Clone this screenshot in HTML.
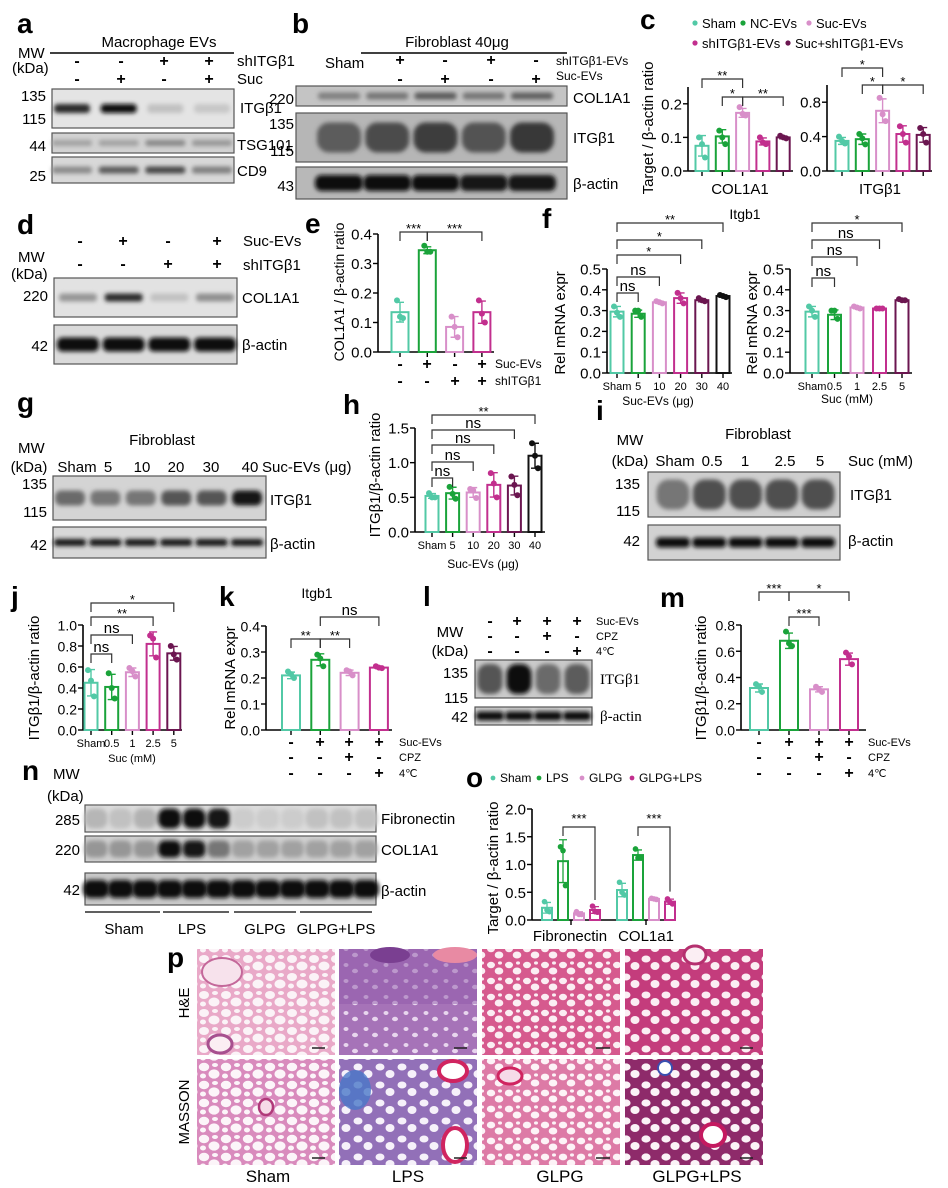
<!DOCTYPE html>
<html><head><meta charset="utf-8"><title>Figure</title>
<style>
html,body{margin:0;padding:0;background:#fff;}
svg{display:block;font-family:"Liberation Sans",Arial,sans-serif;}
.pl{font-weight:bold;font-size:28px;}
.t15{font-size:15px;}
.t14{font-size:14px;}
.t13{font-size:13px;}
.t12{font-size:12px;}
.t11{font-size:11px;}
.sg{font-size:16px;font-weight:bold;text-anchor:middle;}
.serif{font-family:"Liberation Serif",serif;}
</style></head>
<body>
<svg id="fig" width="948" height="1188" viewBox="0 0 948 1188" xmlns="http://www.w3.org/2000/svg">
<defs>
<filter id="blur" x="-30%" y="-80%" width="160%" height="260%"><feGaussianBlur stdDeviation="2.2"/></filter>
<pattern id="he-sham" width="22" height="18" patternUnits="userSpaceOnUse"><rect width="22" height="18" fill="#e9a9c8"/><ellipse cx="6" cy="5" rx="5" ry="4" fill="#fbf3f7"/><ellipse cx="16" cy="12" rx="5.5" ry="4.5" fill="#fbf3f7"/><ellipse cx="17" cy="3" rx="3" ry="2" fill="#fbf3f7"/><ellipse cx="5" cy="14" rx="3" ry="2.5" fill="#fbf3f7"/></pattern>
<pattern id="he-lps" width="20" height="16" patternUnits="userSpaceOnUse"><rect width="20" height="16" fill="#a673b8"/><ellipse cx="6" cy="5" rx="2.5" ry="2" fill="#e8d6ee"/><ellipse cx="15" cy="11" rx="3" ry="2.2" fill="#e8d6ee"/></pattern>
<pattern id="he-glpg" width="18" height="16" patternUnits="userSpaceOnUse"><rect width="18" height="16" fill="#d65a8e"/><ellipse cx="5" cy="5" rx="4" ry="3.2" fill="#fbeef3"/><ellipse cx="13" cy="11" rx="4.3" ry="3.5" fill="#fbeef3"/><ellipse cx="14" cy="3" rx="2" ry="1.6" fill="#fbeef3"/></pattern>
<pattern id="he-gl" width="20" height="18" patternUnits="userSpaceOnUse"><rect width="20" height="18" fill="#c43c7c"/><ellipse cx="6" cy="5" rx="4.5" ry="3.5" fill="#fbeef3"/><ellipse cx="15" cy="12" rx="4.5" ry="4" fill="#fbeef3"/></pattern>
<pattern id="ma-sham" width="22" height="18" patternUnits="userSpaceOnUse"><rect width="22" height="18" fill="#d98bbd"/><ellipse cx="6" cy="5" rx="5.2" ry="4.2" fill="#fcf5f9"/><ellipse cx="16" cy="12" rx="5.5" ry="4.6" fill="#fcf5f9"/><ellipse cx="17" cy="3" rx="3" ry="2" fill="#fcf5f9"/><ellipse cx="5" cy="14" rx="3" ry="2.5" fill="#fcf5f9"/></pattern>
<pattern id="ma-lps" width="22" height="18" patternUnits="userSpaceOnUse"><rect width="22" height="18" fill="#9270b8"/><ellipse cx="6" cy="5" rx="4.5" ry="3.5" fill="#f6f1fa"/><ellipse cx="16" cy="12" rx="4.5" ry="4" fill="#f6f1fa"/></pattern>
<pattern id="ma-glpg" width="18" height="16" patternUnits="userSpaceOnUse"><rect width="18" height="16" fill="#dd7aa6"/><ellipse cx="5" cy="5" rx="4.2" ry="3.4" fill="#fdf3f7"/><ellipse cx="13" cy="11" rx="4.3" ry="3.5" fill="#fdf3f7"/><ellipse cx="14" cy="3" rx="2" ry="1.6" fill="#fdf3f7"/></pattern>
<pattern id="ma-gl" width="20" height="18" patternUnits="userSpaceOnUse"><rect width="20" height="18" fill="#8e2a6a"/><ellipse cx="6" cy="5" rx="4.6" ry="3.6" fill="#fbf3f7"/><ellipse cx="15" cy="12" rx="4.6" ry="4" fill="#fbf3f7"/></pattern>
</defs>

<!-- Panel a -->
<g>
<text class="pl" x="17" y="33">a</text>
<text class="t15" x="159" y="47" text-anchor="middle">Macrophage EVs</text>
<line x1="50" y1="53" x2="234" y2="53" stroke="#000" stroke-width="1.5"/>
<text class="t15" x="18" y="58">MW</text>
<text class="t15" x="12" y="73">(kDa)</text>
<g class="sg"><text x="77" y="66">-</text><text x="121" y="66">-</text><text x="164" y="66">+</text><text x="209" y="66">+</text></g>
<g class="sg"><text x="77" y="84">-</text><text x="121" y="84">+</text><text x="164" y="84">-</text><text x="209" y="84">+</text></g>
<text class="t15" x="237" y="66">shITGβ1</text>
<text class="t15" x="237" y="84">Suc</text>
<text class="t15" x="46" y="101" text-anchor="end">135</text>
<text class="t15" x="46" y="124" text-anchor="end">115</text>
<text class="t15" x="46" y="151" text-anchor="end">44</text>
<text class="t15" x="46" y="181" text-anchor="end">25</text>
<text class="t15" x="240" y="113">ITGβ1</text>
<text class="t15" x="237" y="150">TSG101</text>
<text class="t15" x="237" y="176">CD9</text>
</g>

<!-- Panel b -->
<g>
<text class="pl" x="292" y="33">b</text>
<text class="t15" x="457" y="47" text-anchor="middle">Fibroblast  40μg</text>
<line x1="361" y1="53" x2="567" y2="53" stroke="#000" stroke-width="1.5"/>
<text class="t15" x="325" y="68">Sham</text>
<g class="sg"><text x="400" y="65">+</text><text x="445" y="65">-</text><text x="491" y="65">+</text><text x="536" y="65">-</text></g>
<g class="sg"><text x="400" y="84">-</text><text x="445" y="84">+</text><text x="491" y="84">-</text><text x="536" y="84">+</text></g>
<text class="t12" x="556" y="65">shITGβ1-EVs</text>
<text class="t12" x="556" y="80">Suc-EVs</text>
<text class="t15" x="294" y="104" text-anchor="end">220</text>
<text class="t15" x="294" y="129" text-anchor="end">135</text>
<text class="t15" x="294" y="156" text-anchor="end">115</text>
<text class="t15" x="294" y="191" text-anchor="end">43</text>
<text class="t15" x="573" y="103">COL1A1</text>
<text class="t15" x="573" y="143">ITGβ1</text>
<text class="t15" x="573" y="189">β-actin</text>
</g>

<!-- Panel c -->
<g>
<text class="pl" x="640" y="29">c</text>
<g class="t13">
<circle cx="695" cy="23" r="2.6" fill="#52c9a6"/><text x="702" y="28">Sham</text>
<circle cx="743" cy="23" r="2.6" fill="#1aa33a"/><text x="750" y="28">NC-EVs</text>
<circle cx="809" cy="23" r="2.6" fill="#d88fc9"/><text x="816" y="28">Suc-EVs</text>
<circle cx="695" cy="43" r="2.6" fill="#c22f8e"/><text x="702" y="48">shITGβ1-EVs</text>
<circle cx="788" cy="43" r="2.6" fill="#6b1650"/><text x="795" y="48">Suc+shITGβ1-EVs</text>
</g>
<text class="t15" transform="translate(653,128) rotate(-90)" text-anchor="middle">Target / β-actin ratio</text>
<text class="t15" x="740" y="194" text-anchor="middle">COL1A1</text>
<text class="t15" x="880" y="194" text-anchor="middle">ITGβ1</text>
</g>

<!-- Panel d -->
<g>
<text class="pl" x="17" y="234">d</text>
<g class="sg"><text x="80" y="246">-</text><text x="123" y="246">+</text><text x="168" y="246">-</text><text x="217" y="246">+</text></g>
<g class="sg"><text x="80" y="269">-</text><text x="123" y="269">-</text><text x="168" y="269">+</text><text x="217" y="269">+</text></g>
<text class="t15" x="243" y="246">Suc-EVs</text>
<text class="t15" x="243" y="270">shITGβ1</text>
<text class="t15" x="18" y="262">MW</text>
<text class="t15" x="11" y="279">(kDa)</text>
<text class="t15" x="48" y="301" text-anchor="end">220</text>
<text class="t15" x="48" y="351" text-anchor="end">42</text>
<text class="t15" x="242" y="303">COL1A1</text>
<text class="t15" x="242" y="350">β-actin</text>
</g>

<!-- Panel e -->
<g>
<text class="pl" x="305" y="233">e</text>
<text class="t14" transform="translate(344,292) rotate(-90)" text-anchor="middle">COL1A1 / β-actin ratio</text>
<g class="sg"><text x="400" y="369">-</text><text x="427" y="369">+</text><text x="455" y="369">-</text><text x="482" y="369">+</text></g>
<g class="sg"><text x="400" y="386">-</text><text x="427" y="386">-</text><text x="455" y="386">+</text><text x="482" y="386">+</text></g>
<text class="t12" x="495" y="368">Suc-EVs</text>
<text class="t12" x="495" y="385">shITGβ1</text>
</g>

<!-- Panel f -->
<g>
<text class="pl" x="542" y="228">f</text>
<text class="t14" x="745" y="219" text-anchor="middle">Itgb1</text>
<text class="t15" transform="translate(565,323) rotate(-90)" text-anchor="middle">Rel mRNA expr</text>
<text class="t15" transform="translate(757,323) rotate(-90)" text-anchor="middle">Rel mRNA expr</text>
<text class="t12" x="658" y="405" text-anchor="middle">Suc-EVs (μg)</text>
<text class="t12" x="847" y="403" text-anchor="middle">Suc (mM)</text>
</g>

<!-- Panel g -->
<g>
<text class="pl" x="17" y="412">g</text>
<text class="t15" x="18" y="453">MW</text>
<text class="t15" x="162" y="445" text-anchor="middle">Fibroblast</text>
<g class="t15" text-anchor="middle">
<text x="29" y="472">(kDa)</text><text x="77" y="472">Sham</text><text x="108" y="472">5</text><text x="142" y="472">10</text><text x="176" y="472">20</text><text x="211" y="472">30</text><text x="250" y="472">40</text></g>
<text class="t15" x="262" y="472">Suc-EVs (μg)</text>
<text class="t15" x="47" y="489" text-anchor="end">135</text>
<text class="t15" x="47" y="517" text-anchor="end">115</text>
<text class="t15" x="47" y="550" text-anchor="end">42</text>
<text class="t15" x="270" y="505">ITGβ1</text>
<text class="t15" x="270" y="549">β-actin</text>
</g>

<!-- Panel h -->
<g>
<text class="pl" x="343" y="414">h</text>
<text class="t15" transform="translate(380,475) rotate(-90)" text-anchor="middle">ITGβ1/β-actin ratio</text>
<text class="t12" x="483" y="568" text-anchor="middle">Suc-EVs (μg)</text>
</g>

<!-- Panel i -->
<g>
<text class="pl" x="596" y="420">i</text>
<text class="t15" x="630" y="445" text-anchor="middle">MW</text>
<text class="t15" x="758" y="439" text-anchor="middle">Fibroblast</text>
<g class="t15" text-anchor="middle">
<text x="630" y="466">(kDa)</text><text x="675" y="466">Sham</text><text x="712" y="466">0.5</text><text x="745" y="466">1</text><text x="785" y="466">2.5</text><text x="820" y="466">5</text></g>
<text class="t15" x="848" y="466">Suc (mM)</text>
<text class="t15" x="640" y="489" text-anchor="end">135</text>
<text class="t15" x="640" y="516" text-anchor="end">115</text>
<text class="t15" x="640" y="546" text-anchor="end">42</text>
<text class="t15" x="850" y="500">ITGβ1</text>
<text class="t15" x="848" y="546">β-actin</text>
</g>

<!-- Panel j -->
<g>
<text class="pl" x="11" y="606">j</text>
<text class="t15" transform="translate(39,678) rotate(-90)" text-anchor="middle">ITGβ1/β-actin ratio</text>
<text class="t11" x="132" y="762" text-anchor="middle">Suc (mM)</text>
</g>

<!-- Panel k -->
<g>
<text class="pl" x="219" y="606">k</text>
<text class="t14" x="317" y="598" text-anchor="middle">Itgb1</text>
<text class="t15" transform="translate(235,678) rotate(-90)" text-anchor="middle">Rel mRNA expr</text>
<g class="sg">
<text x="291" y="747">-</text><text x="320" y="747">+</text><text x="349" y="747">+</text><text x="379" y="747">+</text>
<text x="291" y="762">-</text><text x="320" y="762">-</text><text x="349" y="762">+</text><text x="379" y="762">-</text>
<text x="291" y="778">-</text><text x="320" y="778">-</text><text x="349" y="778">-</text><text x="379" y="778">+</text></g>
<g class="t11"><text x="399" y="746">Suc-EVs</text><text x="399" y="761">CPZ</text><text x="399" y="777">4℃</text></g>
</g>

<!-- Panel l -->
<g>
<text class="pl" x="423" y="606">l</text>
<text class="t15" x="450" y="637" text-anchor="middle">MW</text>
<text class="t15" x="450" y="656" text-anchor="middle">(kDa)</text>
<g class="sg">
<text x="490" y="626">-</text><text x="517" y="626">+</text><text x="547" y="626">+</text><text x="577" y="626">+</text>
<text x="490" y="641">-</text><text x="517" y="641">-</text><text x="547" y="641">+</text><text x="577" y="641">-</text>
<text x="490" y="656">-</text><text x="517" y="656">-</text><text x="547" y="656">-</text><text x="577" y="656">+</text></g>
<g class="t11"><text x="596" y="625">Suc-EVs</text><text x="596" y="640">CPZ</text><text x="596" y="655">4℃</text></g>
<text class="t15" x="468" y="678" text-anchor="end">135</text>
<text class="t15" x="468" y="703" text-anchor="end">115</text>
<text class="t15" x="468" y="722" text-anchor="end">42</text>
<text class="t15 serif" x="600" y="684">ITGβ1</text>
<text class="t15 serif" x="600" y="721">β-actin</text>
</g>

<!-- Panel m -->
<g>
<text class="pl" x="660" y="607">m</text>
<text class="t15" transform="translate(706,678) rotate(-90)" text-anchor="middle">ITGβ1/β-actin ratio</text>
<g class="sg">
<text x="759" y="747">-</text><text x="789" y="747">+</text><text x="819" y="747">+</text><text x="849" y="747">+</text>
<text x="759" y="762">-</text><text x="789" y="762">-</text><text x="819" y="762">+</text><text x="849" y="762">-</text>
<text x="759" y="778">-</text><text x="789" y="778">-</text><text x="819" y="778">-</text><text x="849" y="778">+</text></g>
<g class="t11"><text x="868" y="746">Suc-EVs</text><text x="868" y="761">CPZ</text><text x="868" y="777">4℃</text></g>
</g>

<!-- Panel n -->
<g>
<text class="pl" x="22" y="780">n</text>
<text class="t15" x="53" y="779">MW</text>
<text class="t15" x="47" y="801">(kDa)</text>
<text class="t15" x="80" y="825" text-anchor="end">285</text>
<text class="t15" x="80" y="855" text-anchor="end">220</text>
<text class="t15" x="80" y="895" text-anchor="end">42</text>
<text class="t15" x="381" y="824">Fibronectin</text>
<text class="t15" x="381" y="855">COL1A1</text>
<text class="t15" x="381" y="896">β-actin</text>
<g stroke="#000" stroke-width="1.3">
<line x1="85" y1="912" x2="160" y2="912"/><line x1="163" y1="912" x2="229" y2="912"/><line x1="234" y1="912" x2="296" y2="912"/><line x1="300" y1="912" x2="372" y2="912"/></g>
<g class="t15" text-anchor="middle">
<text x="124" y="934">Sham</text><text x="192" y="934">LPS</text><text x="265" y="934">GLPG</text><text x="336" y="934">GLPG+LPS</text></g>
</g>

<!-- Panel o -->
<g>
<text class="pl" x="466" y="787">o</text>
<g class="t12">
<circle cx="493" cy="778" r="2.4" fill="#52c9a6"/><text x="500" y="782">Sham</text>
<circle cx="539" cy="778" r="2.4" fill="#1aa33a"/><text x="546" y="782">LPS</text>
<circle cx="582" cy="778" r="2.4" fill="#d88fc9"/><text x="589" y="782">GLPG</text>
<circle cx="632" cy="778" r="2.4" fill="#c22f8e"/><text x="639" y="782">GLPG+LPS</text></g>
<text class="t15" transform="translate(498,868) rotate(-90)" text-anchor="middle">Target / β-actin ratio</text>
<text class="t15" x="570" y="941" text-anchor="middle">Fibronectin</text>
<text class="t15" x="646" y="941" text-anchor="middle">COL1a1</text>
</g>

<!-- Panel p -->
<g>
<text class="pl" x="167" y="967">p</text>
<text class="t15" transform="translate(189,1003) rotate(-90)" text-anchor="middle">H&amp;E</text>
<text class="t15" transform="translate(189,1112) rotate(-90)" text-anchor="middle">MASSON</text>
<g>
<rect x="197" y="949" width="138" height="106" fill="url(#he-sham)"/>
<rect x="339" y="949" width="138" height="106" fill="url(#he-lps)"/>
<rect x="482" y="949" width="138" height="106" fill="url(#he-glpg)"/>
<rect x="625" y="949" width="138" height="106" fill="url(#he-gl)"/>
<ellipse cx="222" cy="972" rx="20" ry="14" fill="#f7e2ec" stroke="#c4689a" stroke-width="2"/>
<ellipse cx="220" cy="1044" rx="12" ry="9" fill="#fbeef3" stroke="#a7508f" stroke-width="3"/>
<rect x="339" y="949" width="138" height="55" fill="#8f5aa9" opacity="0.5"/>
<ellipse cx="390" cy="955" rx="20" ry="8" fill="#7a3f91"/>
<ellipse cx="455" cy="955" rx="22" ry="8" fill="#e88aa3"/>
<ellipse cx="695" cy="955" rx="11" ry="9" fill="#fbeef3" stroke="#b5306f" stroke-width="3"/>
</g>
<g>
<rect x="197" y="1059" width="138" height="106" fill="url(#ma-sham)"/>
<rect x="339" y="1059" width="138" height="106" fill="url(#ma-lps)"/>
<rect x="482" y="1059" width="138" height="106" fill="url(#ma-glpg)"/>
<rect x="625" y="1059" width="138" height="106" fill="url(#ma-gl)"/>
<ellipse cx="266" cy="1107" rx="7" ry="8" fill="#f6dbe8" stroke="#b03a7a" stroke-width="2.5"/>
<ellipse cx="355" cy="1090" rx="16" ry="20" fill="#4a78c8" opacity="0.8"/>
<ellipse cx="453" cy="1071" rx="14" ry="10" fill="#fff" stroke="#d02460" stroke-width="4"/>
<ellipse cx="455" cy="1145" rx="12" ry="17" fill="#fff" stroke="#d02460" stroke-width="4"/>
<ellipse cx="510" cy="1076" rx="12" ry="8" fill="#f6dbe8" stroke="#d02460" stroke-width="3"/>
<ellipse cx="665" cy="1068" rx="7" ry="7" fill="#fff" stroke="#3a4fb0" stroke-width="2"/>
<ellipse cx="713" cy="1135" rx="12" ry="11" fill="#fff" stroke="#c41a60" stroke-width="4"/>
</g>
<g stroke="#222" stroke-width="1.5">
<line x1="312" y1="1048" x2="325" y2="1048"/><line x1="454" y1="1048" x2="467" y2="1048"/><line x1="596" y1="1048" x2="610" y2="1048"/><line x1="740" y1="1048" x2="753" y2="1048"/>
<line x1="312" y1="1158" x2="325" y2="1158"/><line x1="454" y1="1158" x2="467" y2="1158"/><line x1="596" y1="1158" x2="610" y2="1158"/><line x1="740" y1="1158" x2="753" y2="1158"/></g>
<g font-size="17" text-anchor="middle">
<text x="268" y="1182">Sham</text><text x="408" y="1182">LPS</text><text x="560" y="1182">GLPG</text><text x="697" y="1182">GLPG+LPS</text></g>
</g>
</svg>

<script>
// ---------- chart data ----------
const colsC = ['#52c9a6','#1aa33a','#d88fc9','#c22f8e','#6b1650'];
const colsF = ['#52c9a6','#1aa33a','#d88fc9','#c22f8e','#6b1650','#111111'];
const colsK = ['#52c9a6','#1aa33a','#d88fc9','#c22f8e'];

const cCol1a1Vals = [0.075,0.103,0.173,0.088,0.100];
const cCol1a1Pts = [[0.10,0.08,0.04],[0.12,0.10,0.08],[0.19,0.17,0.165],[0.10,0.085,0.08],[0.105,0.10,0.097]];
const cItgb1Vals = [0.35,0.37,0.70,0.43,0.42];
const cItgb1Pts = [[0.40,0.35,0.32],[0.43,0.38,0.31],[0.85,0.66,0.58],[0.52,0.43,0.33],[0.50,0.43,0.33]];
const cTicksCol = [0,0.1,0.2];
const cTicksItg = [0,0.4,0.8];

const eVals = [0.135,0.345,0.085,0.135];
const ePts = [[0.175,0.12,0.115],[0.36,0.34,0.34],[0.12,0.085,0.05],[0.175,0.13,0.10]];
const eTicks = [0,0.1,0.2,0.3,0.4];

const fCats1 = ['Sham','5','10','20','30','40'];
const f1Vals = [0.295,0.285,0.34,0.36,0.35,0.37];
const f1Pts = [[0.32,0.29,0.27],[0.30,0.30,0.27],[0.345,0.34,0.335],[0.385,0.36,0.335],[0.36,0.35,0.345],[0.375,0.37,0.365]];
const fCats2 = ['Sham','0.5','1','2.5','5'];
const f2Vals = [0.295,0.28,0.315,0.31,0.35];
const f2Pts = [[0.32,0.30,0.27],[0.30,0.30,0.26],[0.32,0.315,0.31],[0.31,0.31,0.31],[0.355,0.35,0.35]];
const fTicks = [0,0.1,0.2,0.3,0.4,0.5];

const hCats = ['Sham','5','10','20','30','40'];
const hVals = [0.52,0.56,0.57,0.68,0.67,1.10];
const hPts = [[0.56,0.50,0.50],[0.65,0.55,0.48],[0.62,0.60,0.49],[0.85,0.70,0.50],[0.80,0.68,0.53],[1.28,1.10,0.92]];
const hTicks = [0,0.5,1.0,1.5];

const jCats = ['Sham','0.5','1','2.5','5'];
const jVals = [0.45,0.41,0.55,0.82,0.73];
const jPts = [[0.57,0.47,0.32],[0.54,0.40,0.30],[0.59,0.56,0.51],[0.90,0.87,0.69],[0.80,0.72,0.67]];
const jTicks = [0,0.2,0.4,0.6,0.8,1.0];

const kVals = [0.21,0.27,0.22,0.24];
const kPts = [[0.225,0.215,0.20],[0.29,0.275,0.245],[0.23,0.225,0.21],[0.245,0.24,0.238]];
const kTicks = [0,0.1,0.2,0.3,0.4];

const mVals = [0.32,0.68,0.31,0.54];
const mPts = [[0.35,0.33,0.29],[0.75,0.66,0.64],[0.33,0.31,0.29],[0.59,0.56,0.50]];
const mTicks = [0,0.2,0.4,0.6,0.8];

const oGroups = ['Fibronectin','COL1a1'];
const oFibVals = [0.22,1.06,0.12,0.18];
const oFibPts = [[0.33,0.18,0.15],[1.32,1.25,0.62],[0.15,0.10,0.10],[0.25,0.15,0.14]];
const oColVals = [0.54,1.17,0.38,0.33];
const oColPts = [[0.68,0.50,0.45],[1.28,1.12,1.12],[0.39,0.38,0.37],[0.38,0.32,0.29]];
const oTicks = [0,0.5,1.0,1.5,2.0];

// blot band intensities
const aItgb1Bands = [0.85,1,0.15,0.12];
const aTsgBands = [0.3,0.3,0.42,0.35];
const aCd9Bands = [0.4,0.62,0.72,0.45];
const bColBands = [0.45,0.5,0.62,0.5,0.6];
const bItgBands = [0.62,0.7,0.76,0.66,0.78];
const bActBands = [1,1,1,0.95,0.95];
const dColBands = [0.35,0.85,0.15,0.38];
const dActBands = [1,1,1,1];
const gItgBands = [0.55,0.5,0.5,0.65,0.65,0.95];
const gActBands = [0.95,0.95,0.95,0.95,0.95,0.95];
const iItgBands = [0.5,0.68,0.68,0.68,0.68];
const iActBands = [1,1,1,1,1];
const lItgBands = [0.65,1,0.55,0.62];
const lActBands = [1,1,1,1];
const nFnBands = [0.2,0.15,0.22,1,1,0.95,0.1,0.1,0.1,0.15,0.15,0.15];
const nColBands = [0.35,0.35,0.35,1,0.95,0.5,0.3,0.3,0.3,0.3,0.3,0.3];
const nActBands = [1,1,1,1,1,1,1,1,1,1,1,1];

// ---------- drawing helpers ----------
const NS = 'http://www.w3.org/2000/svg';
const svg = document.getElementById('fig');
function mk(tag, attrs, parent) {
  const e = document.createElementNS(NS, tag);
  for (const k in attrs) e.setAttribute(k, attrs[k]);
  (parent || svg).appendChild(e);
  return e;
}
function sd(a){const m=a.reduce((s,v)=>s+v,0)/a.length;return Math.sqrt(a.reduce((s,v)=>s+(v-m)*(v-m),0)/(a.length-1));}

function chart(cfg, vals, pts, cols, cats, ticks, brackets) {
  const g = mk('g', {});
  
  
  const y = v => cfg.yb - v / cfg.max * (cfg.yb - cfg.yt);
  const xc = i => cfg.cx0 + i * cfg.dx;
  const ax = mk('line', {x1: cfg.ax, x2: cfg.ax, y1: y(0), y2: y(cfg.max), stroke: '#000', 'stroke-width': 1.6}, g);
  
  
  const base = mk('line', {x1: cfg.ax, x2: cfg.end, y1: y(0), y2: y(0), stroke: '#000', 'stroke-width': 1.6}, g);
  
  
  ticks.forEach(t => {
    mk('line', {x1: cfg.ax - 5, x2: cfg.ax, y1: y(t), y2: y(t), stroke: '#000', 'stroke-width': 1.4}, g);
    const tl = mk('text', {x: cfg.ax - 6, y: y(t) + 5.5, 'text-anchor': 'end', 'font-size': cfg.fs || 15}, g);
    tl.textContent = t.toFixed(1);
    
    
  });
  vals.forEach((v, i) => {
    const x = xc(i), c = cols[i];
    mk('line', {x1: x, x2: x, y1: y(0), y2: y(0) + 5, stroke: '#000', 'stroke-width': 1.4}, g);
    const b = mk('rect', {x: x - cfg.bw / 2, y: y(v), width: cfg.bw, height: y(0) - y(v), fill: '#fff', stroke: c, 'stroke-width': 2}, g);
    
    
    const s = sd(pts[i]);
    const eb = mk('path', {d: `M${x},${y(v - s)}V${y(v + s)}M${x - 4},${y(v + s)}H${x + 4}M${x - 4},${y(v - s)}H${x + 4}`, stroke: c, 'stroke-width': 1.4, fill: 'none'}, g);
    
    
    pts[i].forEach((p, k) => {
      const dc = mk('circle', {cx: x + (k - 1) * 3, cy: y(p), r: 3, fill: c}, g);
      
      
    });
    if (cats) {
      const cl = mk('text', {x: x, y: y(0) + 17, 'text-anchor': 'middle', 'font-size': 11}, g);
      cl.textContent = cats[i];
      
      
    }
  });
  (brackets || []).forEach(br => {
    const [i, j, by, lab] = br;
    const p = mk('path', {d: `M${xc(i)},${by + 9}V${by}H${xc(j)}V${by + 9}`, stroke: '#333', 'stroke-width': 1.2, fill: 'none'}, g);
    
    
    const t = mk('text', {x: (xc(i) + xc(j)) / 2, y: lab === 'ns' ? by - 2 : by + 1, 'text-anchor': 'middle', 'font-size': lab === 'ns' ? 15 : 13}, g);
    t.textContent = lab;
    
    
  });
}

function blot(name, x, y, w, h, bands, l0, l1, bw, bh, bg) {
  const g = mk('g', {});
  
  
  mk('rect', {x: x, y: y, width: w, height: h, fill: bg, stroke: '#555', 'stroke-width': 1.2}, g);
  const n = bands.length;
  bands.forEach((v, i) => {
    const cx = n > 1 ? l0 + i * (l1 - l0) / (n - 1) : l0;
    const sh = Math.round(225 - v * 215);
    const e = mk('rect', {x: cx - bw / 2, y: y + h / 2 - bh / 2, width: bw, height: bh, rx: Math.min(bw, bh) / 2.5, fill: `rgb(${sh},${sh},${sh})`, filter: 'url(#blur)'}, g);
    
    
  });
}

// ---------- blots ----------
blot('blot-a-itgb1', 52, 89, 182, 39, aItgb1Bands, 72, 212, 36, 9, '#e4e4e4');
blot('blot-a-tsg101', 52, 133, 182, 20, aTsgBands, 72, 212, 40, 6, '#d2d2d2');
blot('blot-a-cd9', 52, 157, 182, 26, aCd9Bands, 72, 212, 40, 7, '#d8d8d8');
blot('blot-b-col1a1', 296, 86, 271, 20, bColBands, 339, 532, 42, 7, '#c4c4c4');
blot('blot-b-itgb1', 296, 113, 271, 49, bItgBands, 339, 532, 44, 30, '#b6b6b6');
blot('blot-b-actin', 296, 167, 271, 32, bActBands, 339, 532, 48, 16, '#b8b8b8');
blot('blot-d-col1a1', 54, 278, 183, 39, dColBands, 78, 215, 38, 8, '#e2e2e2');
blot('blot-d-actin', 54, 325, 183, 39, dActBands, 78, 215, 42, 14, '#dadada');
blot('blot-g-itgb1', 53, 476, 213, 44, gItgBands, 70, 247, 30, 15, '#d4d4d4');
blot('blot-g-actin', 53, 527, 213, 31, gActBands, 70, 247, 32, 7, '#d8d8d8');
blot('blot-i-itgb1', 648, 472, 192, 45, iItgBands, 673, 818, 33, 30, '#cfcfcf');
blot('blot-i-actin', 648, 525, 192, 35, iActBands, 673, 818, 34, 10, '#d2d2d2');
blot('blot-l-itgb1', 475, 660, 117, 38, lItgBands, 490, 577, 25, 30, '#cacaca');
blot('blot-l-actin', 475, 707, 117, 18, lActBands, 490, 577, 28, 9, '#d0d0d0');
blot('blot-n-fibronectin', 85, 805, 291, 27, nFnBands, 96, 366, 23, 20, '#dcdcdc');
blot('blot-n-col1a1', 85, 836, 291, 26, nColBands, 96, 366, 23, 17, '#cfcfcf');
blot('blot-n-actin', 85, 873, 291, 32, nActBands, 96, 366, 26, 18, '#c8c8c8');

// ---------- charts ----------
chart({name:'chart-c-col1a1', ax:688, yb:171, yt:87, max:0.25, cx0:702, dx:20.3, bw:13, end:793},
  cCol1a1Vals, cCol1a1Pts, colsC, null, cTicksCol, [[0,2,79,'**'],[1,2,97,'*'],[2,4,97,'**']]);
chart({name:'chart-c-itgb1', ax:827, yb:171, yt:85, max:1.0, cx0:842, dx:20.3, bw:13, end:932},
  cItgb1Vals, cItgb1Pts, colsC, null, cTicksItg, [[0,2,68,'*'],[1,2,85,'*'],[2,4,85,'*']]);
chart({name:'chart-e', ax:378, yb:352, yt:234, max:0.4, cx0:400, dx:27.3, bw:17, end:494},
  eVals, ePts, colsK, null, eTicks, [[0,1,232,'***'],[1,3,232,'***']]);
chart({name:'chart-f-suc-evs', ax:607, yb:373, yt:269, max:0.5, cx0:617, dx:21.2, bw:13, end:732},
  f1Vals, f1Pts, colsF, fCats1, fTicks, [[0,5,223,'**'],[0,4,240,'*'],[0,3,255,'*'],[0,2,277,'ns'],[0,1,293,'ns']]);
chart({name:'chart-f-suc', ax:790, yb:373, yt:269, max:0.5, cx0:812, dx:22.5, bw:13, end:912},
  f2Vals, f2Pts, colsC, fCats2, fTicks, [[0,4,223,'*'],[0,3,240,'ns'],[0,2,257,'ns'],[0,1,278,'ns']]);
chart({name:'chart-h', ax:415, yb:532, yt:428, max:1.5, cx0:432, dx:20.6, bw:13, end:545},
  hVals, hPts, colsF, hCats, hTicks, [[0,5,415,'**'],[0,4,430,'ns'],[0,3,445,'ns'],[0,2,462,'ns'],[0,1,478,'ns']]);
chart({name:'chart-j', ax:83, yb:730, yt:625, max:1.0, cx0:91, dx:20.7, bw:13, end:182, fs:14},
  jVals, jPts, colsC, jCats, jTicks, [[0,4,603,'*'],[0,3,617,'**'],[0,2,635,'ns'],[0,1,654,'ns']]);
chart({name:'chart-k', ax:266, yb:730, yt:626, max:0.4, cx0:291, dx:29.3, bw:18, end:392, fs:14},
  kVals, kPts, colsK, null, kTicks, [[0,1,639,'**'],[1,2,639,'**'],[1,3,617,'ns']]);
chart({name:'chart-m', ax:741, yb:730, yt:625, max:0.8, cx0:759, dx:30, bw:18, end:866, fs:14},
  mVals, mPts, colsK, null, mTicks, [[0,1,592,'***'],[1,2,617,'***'],[1,3,592,'*']]);

// panel o: grouped bars
(function(){
  const cfg = {ax:532, yb:920, yt:809, max:2.0, end:676};
  const y = v => cfg.yb - v / cfg.max * (cfg.yb - cfg.yt);
  const xc = (gi, si) => 547 + gi * 75 + si * 16;
  const g = mk('g', {});
  
  
  const ax = mk('line', {x1: cfg.ax, x2: cfg.ax, y1: y(0), y2: y(cfg.max), stroke: '#000', 'stroke-width': 1.6}, g);
  
  
  const base = mk('line', {x1: cfg.ax, x2: cfg.end, y1: y(0), y2: y(0), stroke: '#000', 'stroke-width': 1.6}, g);
  
  
  oTicks.forEach(t => {
    mk('line', {x1: cfg.ax - 5, x2: cfg.ax, y1: y(t), y2: y(t), stroke: '#000', 'stroke-width': 1.4}, g);
    const tl = mk('text', {x: cfg.ax - 6, y: y(t) + 5.5, 'text-anchor': 'end', 'font-size': 15}, g);
    tl.textContent = t.toFixed(1);
    
    
  });
  const series = [[oFibVals, oFibPts], [oColVals, oColPts]];
  oGroups.forEach((name, gi) => {
    const gx = (xc(gi, 0) + xc(gi, 3)) / 2;
    mk('line', {x1: gx, x2: gx, y1: y(0), y2: y(0) + 5, stroke: '#000', 'stroke-width': 1.4}, g);
    const [vals, pts] = series[gi];
    vals.forEach((v, i) => {
      const x = xc(gi, i), c = colsK[i];
      const b = mk('rect', {x: x - 5, y: y(v), width: 10, height: y(0) - y(v), fill: '#fff', stroke: c, 'stroke-width': 2}, g);
      
      
      const s = sd(pts[i]);
      const eb = mk('path', {d: `M${x},${y(v - s)}V${y(v + s)}M${x - 4},${y(v + s)}H${x + 4}M${x - 4},${y(v - s)}H${x + 4}`, stroke: c, 'stroke-width': 1.3, fill: 'none'}, g);
      
      
      pts[i].forEach((p, k) => {
        const dc = mk('circle', {cx: x + (k - 1) * 2.5, cy: y(p), r: 2.8, fill: c}, g);
        
        
      });
    });
    const p = mk('path', {d: `M${xc(gi,1)},${836}V827H${xc(gi,3)}V${y(vals[3]) - 10}`, stroke: '#333', 'stroke-width': 1.2, fill: 'none'}, g);
    
    
    const t = mk('text', {x: (xc(gi,1) + xc(gi,3)) / 2, y: 823, 'text-anchor': 'middle', 'font-size': 13}, g);
    t.textContent = '***';
    
    
  });
})();
</script>
</body></html>
